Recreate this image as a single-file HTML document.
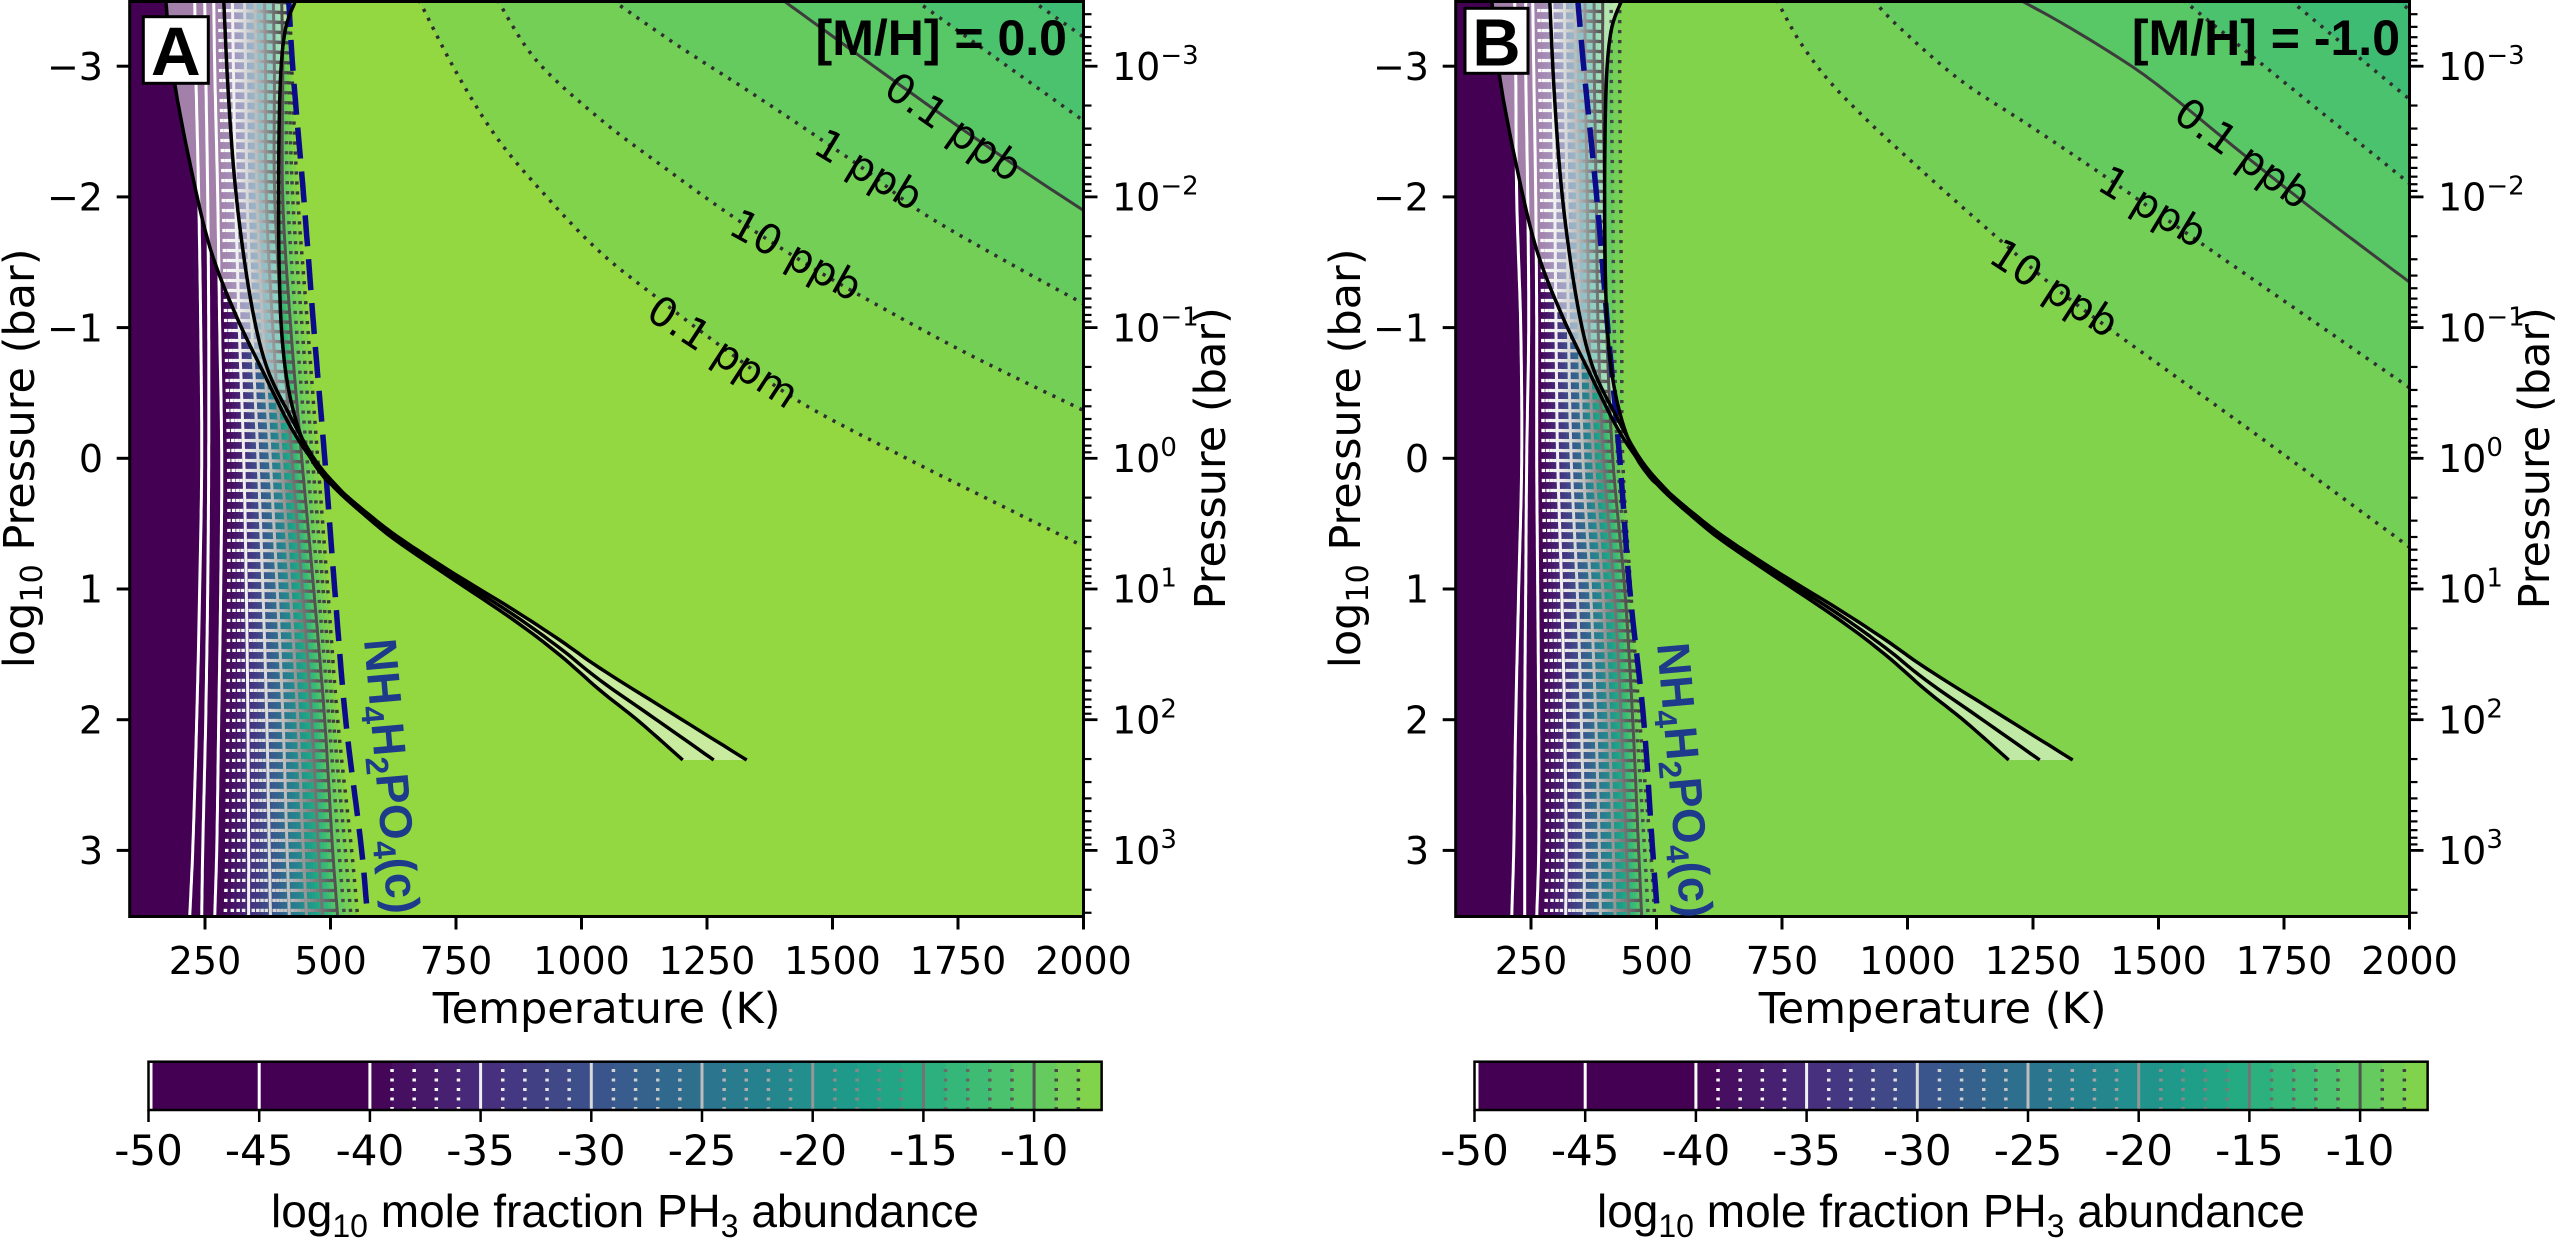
<!DOCTYPE html>
<html><head><meta charset="utf-8"><style>
html,body{margin:0;padding:0;background:#fff;}
svg{display:block;}
.tk{font-family:"DejaVu Sans","Liberation Sans",sans-serif;font-size:38px;fill:#000;}
.sup{font-size:26px;}
.lab{font-family:"DejaVu Sans","Liberation Sans",sans-serif;font-size:43px;fill:#000;}
.cbt{font-family:"DejaVu Sans","Liberation Sans",sans-serif;font-size:42px;fill:#000;}
.cbl{font-family:"Liberation Sans","DejaVu Sans",sans-serif;font-size:46px;fill:#000;}
.mh{font-family:"Liberation Sans","DejaVu Sans",sans-serif;font-size:50px;font-weight:bold;fill:#000;}
.cl{font-family:"DejaVu Sans","Liberation Sans",sans-serif;font-size:41px;fill:#000;}
.nh{font-family:"Liberation Sans","DejaVu Sans",sans-serif;font-size:46px;font-weight:bold;fill:#1e3a8a;}
.bx{font-family:"Liberation Sans","DejaVu Sans",sans-serif;font-weight:bold;fill:#000;}
</style></head><body>
<svg xmlns="http://www.w3.org/2000/svg" width="2555" height="1254" viewBox="0 0 2555 1254">
<defs><clipPath id="clipP"><rect x="0" y="1.5" width="953.8" height="915"/></clipPath></defs>
<rect x="0" y="0" width="2555" height="1254" fill="#fff"/>
<g transform="translate(129.7,0)"><g id="pA" clip-path="url(#clipP)"><rect x="0" y="0" width="954" height="917" fill="#93d741"/></g></g>
<g transform="translate(1455.7,0)"><g id="pB" clip-path="url(#clipP)"><rect x="0" y="0" width="954" height="917" fill="#82d34c"/></g></g>
<g id="axes"></g>
<g id="cb"></g>

<!-- Panel A texts -->
<rect x="143.3" y="16.7" width="65" height="66.6" fill="#fff" stroke="#000" stroke-width="3"/>
<text class="bx" x="175.8" y="75" font-size="69" text-anchor="middle">A</text>
<text class="mh" x="1067" y="55" text-anchor="end">[M/H] = 0.0</text>
<text class="cl" transform="translate(952.5,128.6) rotate(35)" x="0" y="12" text-anchor="middle">0.1 ppb</text>
<text class="cl" transform="translate(867.7,171.6) rotate(31)" x="0" y="12" text-anchor="middle">1 ppb</text>
<text class="cl" transform="translate(795,257) rotate(29)" x="0" y="12" text-anchor="middle">10 ppb</text>
<text class="cl" transform="translate(722,353.5) rotate(33)" x="0" y="12" text-anchor="middle">0.1 ppm</text>
<text class="nh" transform="translate(392,776) rotate(85)" x="0" y="16" text-anchor="middle">NH<tspan font-size="32" dy="9">4</tspan><tspan dy="-9">H</tspan><tspan font-size="32" dy="9">2</tspan><tspan dy="-9">PO</tspan><tspan font-size="32" dy="9">4</tspan><tspan dy="-9">(c)</tspan></text>

<!-- Panel B texts -->
<rect x="1465" y="8.3" width="63" height="65" fill="#fff" stroke="#000" stroke-width="3"/>
<text class="bx" x="1496.5" y="65.3" font-size="67" text-anchor="middle">B</text>
<text class="mh" x="2400" y="55" text-anchor="end">[M/H] = -1.0</text>
<text class="cl" transform="translate(2241.7,155) rotate(36)" x="0" y="12" text-anchor="middle">0.1 ppb</text>
<text class="cl" transform="translate(2151.7,208.5) rotate(31)" x="0" y="12" text-anchor="middle">1 ppb</text>
<text class="cl" transform="translate(2053.3,290) rotate(33)" x="0" y="12" text-anchor="middle">10 ppb</text>
<text class="nh" transform="translate(1685,780) rotate(85)" x="0" y="16" text-anchor="middle">NH<tspan font-size="32" dy="9">4</tspan><tspan dy="-9">H</tspan><tspan font-size="32" dy="9">2</tspan><tspan dy="-9">PO</tspan><tspan font-size="32" dy="9">4</tspan><tspan dy="-9">(c)</tspan></text>

<!-- Axis tick labels -->
<g class="tk" text-anchor="middle">
<text x="205.0" y="974">250</text><text x="330.5" y="974">500</text><text x="456.0" y="974">750</text><text x="581.5" y="974">1000</text><text x="707.0" y="974">1250</text><text x="832.5" y="974">1500</text><text x="958.0" y="974">1750</text><text x="1083.5" y="974">2000</text>
<text x="1531.0" y="974">250</text><text x="1656.5" y="974">500</text><text x="1782.0" y="974">750</text><text x="1907.5" y="974">1000</text><text x="2033.0" y="974">1250</text><text x="2158.5" y="974">1500</text><text x="2284.0" y="974">1750</text><text x="2409.5" y="974">2000</text>
</g>
<g class="tk" text-anchor="end">
<text x="103" y="79.9">−3</text><text x="103" y="210.6">−2</text><text x="103" y="341.3">−1</text><text x="103" y="472">0</text><text x="103" y="602.7">1</text><text x="103" y="733.4">2</text><text x="103" y="864.1">3</text>
<text x="1429" y="79.9">−3</text><text x="1429" y="210.6">−2</text><text x="1429" y="341.3">−1</text><text x="1429" y="472">0</text><text x="1429" y="602.7">1</text><text x="1429" y="733.4">2</text><text x="1429" y="864.1">3</text>
</g>
<g class="tk">
<text x="1112" y="79.9">10<tspan class="sup" dy="-16">−3</tspan></text>
<text x="1112" y="210.6">10<tspan class="sup" dy="-16">−2</tspan></text>
<text x="1112" y="341.3">10<tspan class="sup" dy="-16">−1</tspan></text>
<text x="1112" y="472">10<tspan class="sup" dy="-16">0</tspan></text>
<text x="1112" y="602.7">10<tspan class="sup" dy="-16">1</tspan></text>
<text x="1112" y="733.4">10<tspan class="sup" dy="-16">2</tspan></text>
<text x="1112" y="864.1">10<tspan class="sup" dy="-16">3</tspan></text>
<text x="2438" y="79.9">10<tspan class="sup" dy="-16">−3</tspan></text>
<text x="2438" y="210.6">10<tspan class="sup" dy="-16">−2</tspan></text>
<text x="2438" y="341.3">10<tspan class="sup" dy="-16">−1</tspan></text>
<text x="2438" y="472">10<tspan class="sup" dy="-16">0</tspan></text>
<text x="2438" y="602.7">10<tspan class="sup" dy="-16">1</tspan></text>
<text x="2438" y="733.4">10<tspan class="sup" dy="-16">2</tspan></text>
<text x="2438" y="864.1">10<tspan class="sup" dy="-16">3</tspan></text>
</g>
<text class="lab" x="606.6" y="1023" text-anchor="middle">Temperature (K)</text>
<text class="lab" x="1932.6" y="1023" text-anchor="middle">Temperature (K)</text>
<text class="lab" transform="translate(34,458.3) rotate(-90)" text-anchor="middle">log<tspan font-size="30" dy="8">10</tspan><tspan dy="-8"> Pressure (bar)</tspan></text>
<text class="lab" transform="translate(1360,458.3) rotate(-90)" text-anchor="middle">log<tspan font-size="30" dy="8">10</tspan><tspan dy="-8"> Pressure (bar)</tspan></text>
<text class="lab" transform="translate(1225,458.3) rotate(-90)" text-anchor="middle">Pressure (bar)</text>
<text class="lab" transform="translate(2549,458.3) rotate(-90)" text-anchor="middle">Pressure (bar)</text>

<!-- colorbar labels -->
<g class="cbt" text-anchor="middle">
<text x="148.5" y="1165">-50</text><text x="259.2" y="1165">-45</text><text x="369.9" y="1165">-40</text><text x="480.6" y="1165">-35</text><text x="591.3" y="1165">-30</text><text x="702.0" y="1165">-25</text><text x="812.7" y="1165">-20</text><text x="923.4" y="1165">-15</text><text x="1034.1" y="1165">-10</text>
<text x="1474.5" y="1165">-50</text><text x="1585.2" y="1165">-45</text><text x="1695.9" y="1165">-40</text><text x="1806.6" y="1165">-35</text><text x="1917.3" y="1165">-30</text><text x="2028.0" y="1165">-25</text><text x="2138.7" y="1165">-20</text><text x="2249.4" y="1165">-15</text><text x="2360.1" y="1165">-10</text>
</g>
<text class="cbl" x="625" y="1227" text-anchor="middle">log<tspan font-size="32" dy="10">10</tspan><tspan dy="-10"> mole fraction PH</tspan><tspan font-size="32" dy="10">3</tspan><tspan dy="-10"> abundance</tspan></text>
<text class="cbl" x="1951" y="1227" text-anchor="middle">log<tspan font-size="32" dy="10">10</tspan><tspan dy="-10"> mole fraction PH</tspan><tspan font-size="32" dy="10">3</tspan><tspan dy="-10"> abundance</tspan></text>
</svg>
<script>
(function(){
var NS='http://www.w3.org/2000/svg';
function el(tag,attrs,parent){var e=document.createElementNS(NS,tag);for(var k in attrs)e.setAttribute(k,attrs[k]);parent.appendChild(e);return e;}
var VIR=[[68,1,84],[71,19,101],[72,36,117],[70,52,128],[65,68,135],[59,82,139],[53,95,141],[47,108,142],[42,120,142],[37,132,142],[33,145,140],[30,156,137],[34,168,132],[47,180,124],[68,191,112],[94,201,98],[122,209,81],[155,217,60],[189,223,38],[223,227,24],[253,231,37]];
function vir(t){t=Math.max(0,Math.min(1,t));var f=t*20;var i=Math.min(19,Math.floor(f));var u=f-i;var a=VIR[i],b=VIR[i+1];return 'rgb('+Math.round(a[0]+(b[0]-a[0])*u)+','+Math.round(a[1]+(b[1]-a[1])*u)+','+Math.round(a[2]+(b[2]-a[2])*u)+')';}
var GRE=[255,240,217,189,150,115,82,37,0];
function grey(t){t=Math.max(0,Math.min(1,t));var f=t*8;var i=Math.min(7,Math.floor(f));var u=f-i;var g=Math.round(GRE[i]+(GRE[i+1]-GRE[i])*u);return 'rgb('+g+','+g+','+g+')';}
var YS=[0,67,197,327,458,589,720,851,917];
function cr(xs,y){
  var i=0;while(i<YS.length-2&&y>YS[i+1])i++;
  var y0=YS[i],y1=YS[i+1],h=y1-y0,s=(y-y0)/h;
  function m(k){if(k===0)return (xs[1]-xs[0])/(YS[1]-YS[0]);if(k===YS.length-1)return (xs[k]-xs[k-1])/(YS[k]-YS[k-1]);return (xs[k+1]-xs[k-1])/(YS[k+1]-YS[k-1]);}
  var m0=m(i)*h,m1=m(i+1)*h,s2=s*s,s3=s2*s;
  return (2*s3-3*s2+1)*xs[i]+(s3-2*s2+s)*m0+(-2*s3+3*s2)*xs[i+1]+(s3-s2)*m1;
}
function smooth(pts,n){
  n=n||8;var out=[];
  for(var i=0;i<pts.length-1;i++){
    var p0=pts[Math.max(0,i-1)],p1=pts[i],p2=pts[i+1],p3=pts[Math.min(pts.length-1,i+2)];
    for(var j=0;j<n;j++){var t=j/n,t2=t*t,t3=t2*t;
      var f=function(a,b,c,d){return 0.5*((2*b)+(-a+c)*t+(2*a-5*b+4*c-d)*t2+(-a+3*b-3*c+d)*t3);};
      out.push([f(p0[0],p1[0],p2[0],p3[0]),f(p0[1],p1[1],p2[1],p3[1])]);}
  }
  out.push(pts[pts.length-1]);return out;
}
function ps(a){return a.map(function(p){return p[0].toFixed(1)+','+p[1].toFixed(1);}).join(' ');}
var C1=[[36,-4],[36,0],[44,77],[61,167],[81,250],[107,317],[134,373],[161,427],[184,462],[205,488],[236,516],[267,541],[317,575],[384,620],[430,655],[470,690],[510,722],[553,760]];
var C2=[[94,-4],[94,0],[99,100],[107,200],[121,300],[137,367],[161,417],[184,458],[207,486],[236,514],[267,539],[317,572],[384,615],[430,648],[470,680],[530,722],[584,760]];
var C3=[[166,-4],[166,0],[155,33],[150,100],[149,233],[152,333],[161,400],[177,450],[195,478],[210,490],[236,512],[267,536],[317,569],[384,610],[430,640],[470,668],[540,712],[617,760]];
var PANELS=[
 {id:'pA',X0:129.7,e:-7,
  p50:[65,66,69,71,72,70,67,63,60],p45:[75,76,78,79,79,78,76,73,72],p40:[84,85,88,90,92,91,89,87,85],
  p10:[152,153,153,161,172,184,195,203,208],pe:[160,162,168,178,188,198,208,222,228],
  blue:[159,163,174,184,195,205,216,232,238],
  ur:[{L:-7,pts:[[419,0],[455,70],[497,138],[545,195],[600,252],[660,300],[726,350],[800,402],[900,455],[1000,505],[1095,552]]},
      {L:-8,pts:[[497.5,0],[536,60],[600,119],[665,168],[729,214],[795,257],[861,296],[970,355],[1095,416]]},
      {L:-9,pts:[[612,0],[680,47],[750,92],[816,136],[868,172],[919.5,211],[1000,258],[1095,310]]},
      {L:-10,pts:[[782.6,0],[835,38],[886,75],[952,122],[1019,168],[1095,218]]},
      {L:-11,pts:[[915,0],[1000,61],[1095,129]]},
      {L:-12,pts:[[1031,0],[1095,45]]}]},
 {id:'pB',X0:1455.7,e:-8,
  p50:[59,60,61,65,66,63,60,58,56],p45:[70,70,72,73,71,70,69,69,69],p40:[77,78,80,81,81,82,83,83,81],
  p10:[147,147,149,151,157,169,177,183,186],pe:[164,164,165,166,167,175,184,195,199],
  blue:[122,128,141,152,164,174,188,197,202],
  ur:[{L:-8,pts:[[1776.7,0],[1800,42],[1830,82],[1870,123],[1910,160],[1960,205],[2000,240],[2053,286],[2116.7,334],[2250,430],[2370,518],[2420,555]]},
      {L:-9,pts:[[1873,0],[1900,28],[1960,80],[2030,126],[2100,173],[2151.7,209],[2205,246],[2300,312],[2420,395]]},
      {L:-10,pts:[[2020,0],[2060,22],[2100,46],[2140,72],[2176.7,100],[2241.7,153],[2310,207],[2360,245],[2420,290]]},
      {L:-11,pts:[[2183,0],[2300,95],[2420,192]]},
      {L:-12,pts:[[2290,0],[2350,50],[2420,108]]},
      {L:-13,pts:[[2397,0],[2420,18]]}]}
];
function levelX(P,L,y){
  if(L<=-50)return cr(P.p50,y);
  if(L<=-45){var u=(L+50)/5;return cr(P.p50,y)*(1-u)+cr(P.p45,y)*u;}
  if(L<=-40){var u2=(L+45)/5;return cr(P.p45,y)*(1-u2)+cr(P.p40,y)*u2;}
  var a=cr(P.p40,y),b=cr(P.p10,y);
  if(L<=-10){var u3=(L+40)/30;return a+(b-a)*Math.pow(u3,0.72);}
  var c=cr(P.pe,y);var u4=(L+10)/(P.e+10);return b+(c-b)*u4;
}
PANELS.forEach(function(P){
  var g=document.getElementById(P.id);
  var X0=P.X0;
  el('rect',{x:-10,y:-10,width:980,height:940,fill:vir((P.e+0.5+40)/40)},g);
  var ys=[];for(var y=922;y>=-6;y-=5)ys.push(y);
  function lp(L){return ys.map(function(y){return [levelX(P,L,Math.max(0,Math.min(917,y))),y];});}
  for(var L=P.e;L>=-40;L--){
    el('polygon',{points:ps([[-10,922]].concat(lp(L)).concat([[-10,-6]])),fill:vir((L-0.5+40)/40)},g);
  }
  var urs=P.ur.map(function(u){return smooth(u.pts.map(function(p){return [p[0]-X0,p[1]];}));});
  P.ur.forEach(function(u,i){
    var s=urs[i];var last=s[s.length-1],first=s[0];
    var pts=[[first[0],-10]].concat(s).concat([[1000,last[1]],[1000,-10]]);
    el('polygon',{points:ps(pts),fill:vir((u.L-0.5+40)/40)},g);
  });
  var s1=smooth(C1),s2=smooth(C2),s3=smooth(C3);
  el('polygon',{points:ps(s1.concat(s3.slice().reverse())),fill:'#ffffff','fill-opacity':'0.5'},g);
  var levels=[-50,-45];for(var L2=-40;L2<=P.e;L2++)levels.push(L2);
  levels.forEach(function(L){
    var solid=(L%5===0);
    var a={points:ps(lp(L)),fill:'none',stroke:grey((L+40)/40),'stroke-width':solid?3:3.5};
    if(!solid)a['stroke-dasharray']='3.2 6.8';
    el('polyline',a,g);
  });
  P.ur.forEach(function(u,i){
    var solid=(u.L%5===0);
    var a={points:ps(urs[i]),fill:'none',stroke:solid?'#3c3c3c':'#2e2e2e','stroke-width':solid?3:3.5};
    if(!solid)a['stroke-dasharray']='3.2 6.8';
    el('polyline',a,g);
  });
  var bl=[];for(var yy=-4;yy<=924;yy+=8)bl.push([cr(P.blue,Math.max(0,Math.min(917,yy))),yy]);
  el('polyline',{points:ps(bl),fill:'none',stroke:'#0b0b8c','stroke-width':5.5,'stroke-dasharray':'31 13'},g);
  [s1,s2,s3].forEach(function(s){el('polyline',{points:ps(s),fill:'none',stroke:'#000','stroke-width':3.5,'stroke-linejoin':'round'},g);});
});
var ax=document.getElementById('axes');
[0,1326].forEach(function(ox){
  var X0=129.7+ox,X1=1083.5+ox;
  for(var T=250;T<=2000;T+=250){var x=X0+(T-100)*0.502;el('line',{x1:x,x2:x,y1:916.5,y2:929.5,stroke:'#000','stroke-width':3},ax);}
  for(var k=-3;k<=3;k++){var y=458.3+130.7*k;
    el('line',{x1:X0-13,x2:X0,y1:y,y2:y,stroke:'#000','stroke-width':3},ax);
    el('line',{x1:X1,x2:X1+14,y1:y,y2:y,stroke:'#000','stroke-width':2.8},ax);}
  for(var d=-4;d<=3;d++)for(var m=2;m<=9;m++){var l=d+Math.log(m)/Math.LN10;if(l>-3.5&&l<3.5){var yy=458.3+130.7*l;el('line',{x1:X1,x2:X1+8,y1:yy,y2:yy,stroke:'#000','stroke-width':2.2},ax);}}
  el('rect',{x:X0,y:1.5,width:953.8,height:915,fill:'none',stroke:'#000','stroke-width':3},ax);
});
var cb=document.getElementById('cb');
[0,1326].forEach(function(ox){
  function cx(L){return 148.5+ox+(L+50)*22.14;}
  var top=1061.7,bot=1110;
  el('rect',{x:cx(-50),y:top,width:cx(-40)-cx(-50)+0.6,height:bot-top,fill:vir(0)},cb);
  for(var L=-40;L<-6.95;L++){var L2=Math.min(L+1,-6.95);el('rect',{x:cx(L),y:top,width:cx(L2)-cx(L)+0.6,height:bot-top,fill:vir((L+0.5+40)/40)},cb);}
  var lv=[-50,-45];for(var L3=-40;L3<=-8;L3++)lv.push(L3);
  lv.forEach(function(L){var x=cx(L)+(L===-50?2.5:0);var solid=(L%5===0);
    var a={x1:x,x2:x,y1:bot,y2:top,stroke:grey((L+40)/40),'stroke-width':solid?3:3.5};
    if(!solid)a['stroke-dasharray']='3 6.5';el('line',a,cb);});
  el('rect',{x:cx(-50),y:top,width:cx(-6.95)-cx(-50),height:bot-top,fill:'none',stroke:'#000','stroke-width':2.5},cb);
  for(var t=-50;t<=-10;t+=5)el('line',{x1:cx(t),x2:cx(t),y1:bot,y2:bot+12,stroke:'#000','stroke-width':2.5},cb);
});
})();
</script>
</body></html>
